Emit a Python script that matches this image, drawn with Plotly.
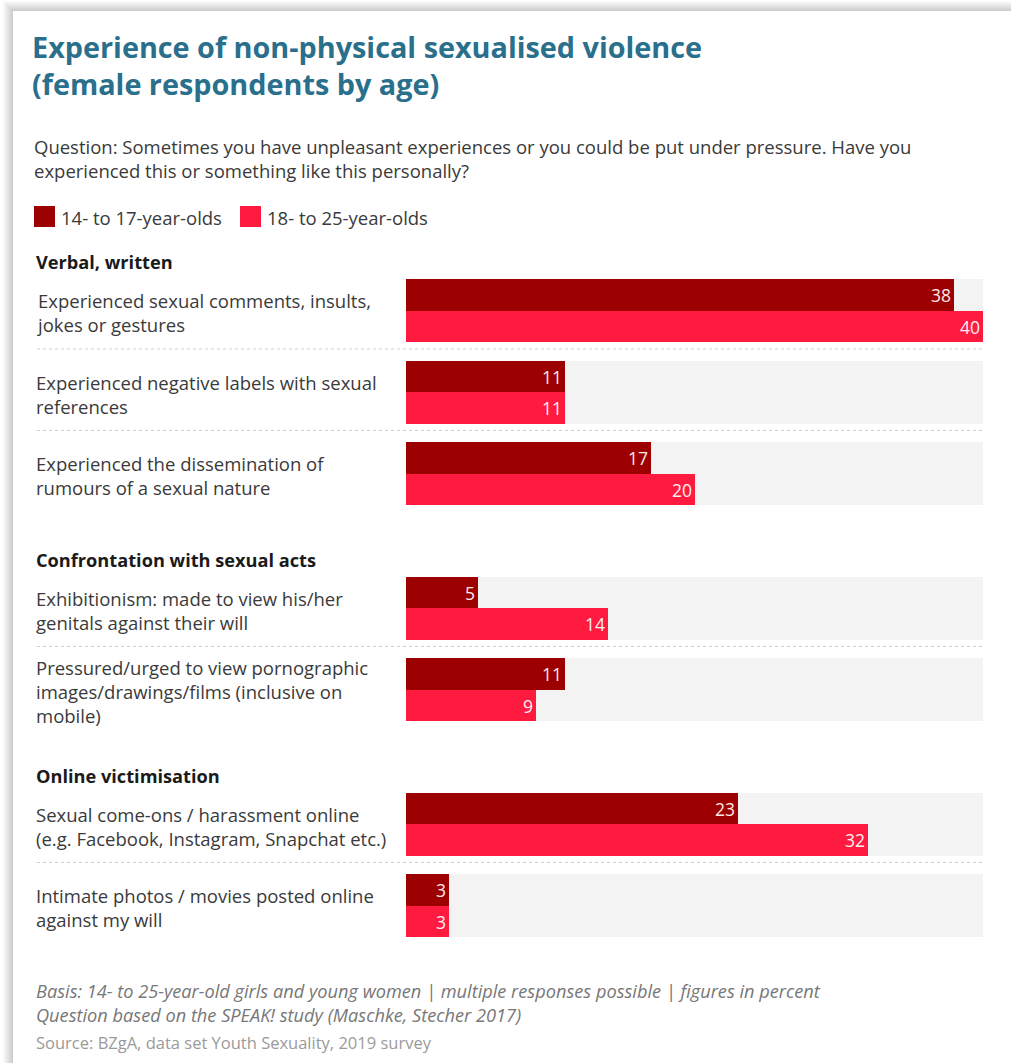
import plotly.graph_objects as go

# ---------------- data ----------------
sections = ["Verbal, written", "Confrontation with sexual acts", "Online victimisation"]
categories = [
    "Experienced sexual comments, insults,<br>jokes or gestures",
    "Experienced negative labels with sexual<br>references",
    "Experienced the dissemination of<br>rumours of a sexual nature",
    "Exhibitionism: made to view his/her<br>genitals against their will",
    "Pressured/urged to view pornographic<br>images/drawings/films (inclusive on<br>mobile)",
    "Sexual come-ons / harassment online<br>(e.g. Facebook, Instagram, Snapchat etc.)",
    "Intimate photos / movies posted online<br>against my will",
]
category_section = [0, 0, 0, 1, 1, 2, 2]
age_14_17 = [38, 11, 17, 5, 11, 23, 3]
age_18_25 = [40, 11, 20, 14, 9, 32, 3]
series_names = ["14- to 17-year-olds", "18- to 25-year-olds"]
x_max = 40

# ---------------- layout constants ----------------
W, H = 1011, 1063
FIRST_TOP = 279
PITCH = 81.5
SECTION_GAP = 53
BAR_H = 31.5
X0_PX, X1_PX = 406, 983
LABEL_X = 37
TEXT_X = 34
DARK = "#9c0000"
BRIGHT = "#ff1a40"
TRACK = "#f3f3f3"
TEXT = "#3a3a3a"
TITLE_C = "#2a6f8c"
FONT = "Open Sans"
BODY = 18.5

tops = [FIRST_TOP + PITCH * i + SECTION_GAP * s for i, s in enumerate(category_section)]
dark_y = [t + BAR_H / 2 for t in tops]
bright_y = [t + BAR_H * 1.5 for t in tops]
track_y = [t + BAR_H for t in tops]

fig = go.Figure()
fig.add_trace(go.Bar(
    x=[x_max] * len(categories), y=track_y, orientation="h", width=BAR_H * 2,
    marker=dict(color=TRACK, line=dict(width=0)), hoverinfo="skip", showlegend=False,
))
fig.add_trace(go.Bar(
    x=age_14_17, y=dark_y, orientation="h", width=BAR_H, name=series_names[0],
    marker=dict(color=DARK, line=dict(width=0)),
    text=[str(v) for v in age_14_17], textposition="inside", insidetextanchor="end",
    textfont=dict(family=FONT, size=17.5, color="#fbe8e8"), constraintext="none",
    showlegend=False,
))
fig.add_trace(go.Bar(
    x=age_18_25, y=bright_y, orientation="h", width=BAR_H, name=series_names[1],
    marker=dict(color=BRIGHT, line=dict(width=0)),
    text=[str(v) for v in age_18_25], textposition="inside", insidetextanchor="end",
    textfont=dict(family=FONT, size=17.5, color="#fff0f2"), constraintext="none",
    showlegend=False,
))

shapes = []
# card shadow + card
for k in range(10, 0, -1):
    shapes.append(dict(type="rect", xref="paper", yref="paper",
                       x0=(13 - k) / W, x1=1.2, y0=1 - (11 - k) / H, y1=-0.2,
                       fillcolor="rgba(0,0,0,0.018)", line=dict(width=0), layer="below"))
shapes.append(dict(type="rect", xref="paper", yref="paper", x0=13 / W, x1=1.2,
                   y0=1 - 11 / H, y1=-0.2, fillcolor="white", line=dict(width=0), layer="below"))

annotations = []
# title
annotations.append(dict(
    text="<b>Experience of non-physical sexualised violence<br>(female respondents by age)</b>",
    xref="paper", yref="paper", x=30 / W, y=1 - 65 / H, xanchor="left", yanchor="middle",
    align="left", showarrow=False, font=dict(family=FONT, size=28.8, color=TITLE_C),
))
# question
annotations.append(dict(
    text="Question: Sometimes you have unpleasant experiences or you could be put under pressure. Have you<br>"
         "experienced this or something like this personally?",
    xref="paper", yref="paper", x=32 / W, y=1 - 159 / H, xanchor="left", yanchor="middle",
    align="left", showarrow=False, font=dict(family=FONT, size=BODY, color=TEXT),
))
# legend
for sx, tx, col, name in [(34, 59, DARK, series_names[0]), (240, 265, BRIGHT, series_names[1])]:
    shapes.append(dict(type="rect", xref="paper", yref="paper", x0=sx / W, x1=(sx + 21) / W,
                       y0=1 - 206 / H, y1=1 - 227 / H, fillcolor=col, line=dict(width=0)))
    annotations.append(dict(text=name, xref="paper", yref="paper", x=tx / W, y=1 - 218 / H,
                            xanchor="left", yanchor="middle", showarrow=False,
                            font=dict(family=FONT, size=BODY, color=TEXT)))

# section headers
for s, name in enumerate(sections):
    first = category_section.index(s)
    annotations.append(dict(text="<b>" + name + "</b>", xref="paper", yref="y",
                            x=TEXT_X / W, y=tops[first] - 17, xanchor="left", yanchor="middle",
                            showarrow=False, font=dict(family=FONT, size=18.2, color="#1a1a1a")))

# category labels
for i, lab in enumerate(categories):
    annotations.append(dict(text=lab, xref="paper", yref="y", x=TEXT_X / W,
                            y=tops[i] + BAR_H + 2, xanchor="left", yanchor="middle", align="left",
                            showarrow=False, font=dict(family=FONT, size=BODY, color=TEXT)))

# dotted separators within sections
for i in range(len(categories) - 1):
    if category_section[i] == category_section[i + 1]:
        yy = tops[i] + 2 * BAR_H + 7
        shapes.append(dict(type="line", xref="paper", yref="y", x0=LABEL_X / W, x1=X1_PX / W,
                           y0=yy, y1=yy, line=dict(color="#cfcfcf", width=1, dash="dot")))

# footer
footer_lines = [
    "Basis: 14- to 25-year-old girls and young women | multiple responses possible | figures in percent",
    "Question based on the SPEAK! study (Maschke, Stecher 2017)",
]
for j, line in enumerate(footer_lines):
    annotations.append(dict(
        text="<i>" + line + "</i>",
        xref="paper", yref="paper", x=TEXT_X / W, y=1 - (991 + 24 * j) / H,
        xanchor="left", yanchor="middle", align="left", showarrow=False,
        font=dict(family=FONT, size=18.2, color="#777777"),
    ))
annotations.append(dict(
    text="Source: BZgA, data set Youth Sexuality, 2019 survey",
    xref="paper", yref="paper", x=TEXT_X / W, y=1 - 1042 / H, xanchor="left", yanchor="middle",
    align="left", showarrow=False, font=dict(family=FONT, size=16.5, color="#9a9a9a"),
))

fig.update_layout(
    width=W, height=H, margin=dict(l=0, r=0, t=0, b=0),
    paper_bgcolor="white", plot_bgcolor="rgba(0,0,0,0)",
    barmode="overlay", bargap=0, showlegend=False,
    xaxis=dict(range=[0, x_max], domain=[X0_PX / W, X1_PX / W], visible=False, fixedrange=True),
    yaxis=dict(range=[H, 0], domain=[0, 1], visible=False, fixedrange=True),
    shapes=shapes, annotations=annotations,
    font=dict(family=FONT),
)

fig.write_html(
    "out.html",
    config={"displayModeBar": False},
    post_script="document.body.style.margin='0';document.body.style.overflow='hidden';",
)
